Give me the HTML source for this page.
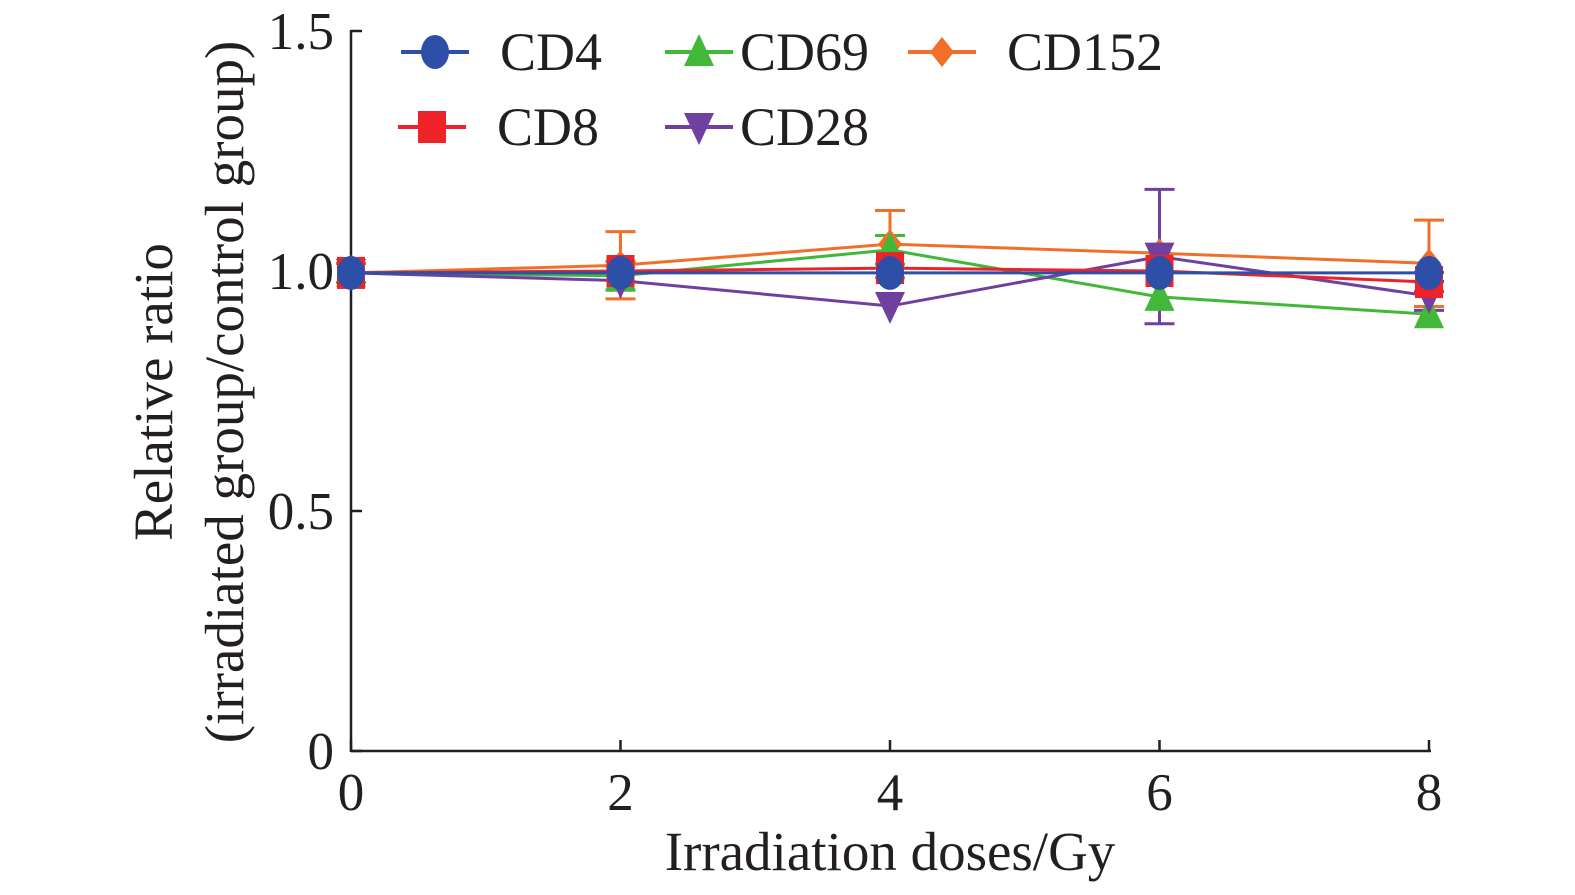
<!DOCTYPE html>
<html><head><meta charset="utf-8"><style>
body{margin:0;background:#fff}
svg text{font-family:"Liberation Serif",serif;fill:#231f20}
</style></head><body>
<svg id="c" width="1575" height="890" viewBox="0 0 1575 890"></svg>
<script>
const xs=[0,2,4,6,8];
const yTicks=[0,0.5,1.0,1.5];
const yTickLabels=["0","0.5","1.0","1.5"];
const cd4=[0.996,0.996,0.996,0.996,0.996];
const cd8=[0.996,1.0,1.006,1.0,0.977];
const cd69=[0.996,0.99,1.044,0.946,0.91];
const cd28=[0.996,0.98,0.927,1.03,0.948];
const cd152=[0.996,1.012,1.056,1.037,1.016];
const cd152Err=[0.02,0.07,0.07,0.0,0.09];
const cd69Err=[0.02,0.03,0.03,0.0,0.0];
const cd28Err=[0,0,0,0.14,0.03];
const cd8Err=[0,0,0,0,0.02];
const X=v=>351+v*(1429-351)/8;
const Y=v=>751-v*480;
const svg=document.getElementById('c');
const NS='http://www.w3.org/2000/svg';
function mk(t,a,p){const e=document.createElementNS(NS,t);for(const k in a)e.setAttribute(k,a[k]);(p||svg).appendChild(e);return e;}
let ax=mk('line',{x1:351,y1:751,x2:1431,y2:751,stroke:'#231f20','stroke-width':2.5});


ax=mk('line',{x1:351,y1:30,x2:351,y2:752,stroke:'#231f20','stroke-width':2.5});


xs.forEach(v=>{
 const t=mk('line',{x1:X(v),y1:751,x2:X(v),y2:740,stroke:'#231f20','stroke-width':2.5});
 
 
 const l=mk('text',{x:X(v),y:810,'text-anchor':'middle','font-size':53});l.textContent=v;
 
 
});
yTicks.forEach((v,i)=>{
 const t=mk('line',{x1:351,y1:Y(v),x2:362,y2:Y(v),stroke:'#231f20','stroke-width':2.5});
 
 
 const l=mk('text',{x:334,y:Y(v)+18,'text-anchor':'end','font-size':53});l.textContent=yTickLabels[i];
 
 
});
let tt=mk('text',{x:890,y:870,'text-anchor':'middle','font-size':55});tt.textContent='Irradiation doses/Gy';


tt=mk('text',{x:0,y:0,'text-anchor':'middle','font-size':55,transform:'translate(172,392) rotate(-90)'});
tt.textContent='Relative ratio';


tt=mk('text',{x:0,y:0,'text-anchor':'middle','font-size':55,transform:'translate(243,392) rotate(-90)'});
tt.textContent='(irradiated group/control group)';


function marker(type,x,y,c,g){
 if(type==='circle')return mk('ellipse',{cx:x,cy:y,rx:14,ry:17,fill:c},g);
 if(type==='square')return mk('rect',{x:x-14,y:y-16,width:28,height:32,fill:c},g);
 if(type==='tri')return mk('polygon',{points:`${x},${y-18} ${x-15},${y+14} ${x+15},${y+14}`,fill:c},g);
 if(type==='dtri')return mk('polygon',{points:`${x},${y+18} ${x-15},${y-14} ${x+15},${y-14}`,fill:c},g);
 if(type==='dia')return mk('polygon',{points:`${x},${y-15} ${x-12},${y} ${x},${y+15} ${x+12},${y}`,fill:c},g);
}
const series=[
 {n:'cd152',v:cd152,e:cd152Err,c:'#f0702a',m:'dia'},
 {n:'cd69',v:cd69,e:cd69Err,c:'#41b83a',m:'tri'},
 {n:'cd28',v:cd28,e:cd28Err,c:'#7040a0',m:'dtri'},
 {n:'cd8',v:cd8,e:cd8Err,c:'#ee2229',m:'square'},
 {n:'cd4',v:cd4,e:[0,0,0,0,0],c:'#2e4fa8',m:'circle'}
];
series.forEach(s=>{
 const g=mk('g',{});
 
 
 s.v.forEach((v,i)=>{if(s.e[i]>0){
  const e=mk('path',{d:`M${X(xs[i])},${Y(v+s.e[i])}V${Y(v-s.e[i])}M${X(xs[i])-15},${Y(v+s.e[i])}h30M${X(xs[i])-15},${Y(v-s.e[i])}h30`,stroke:s.c,'stroke-width':3,fill:'none'},g);
  
  
 }});
 const p=mk('polyline',{points:s.v.map((v,i)=>X(xs[i])+','+Y(v)).join(' '),stroke:s.c,'stroke-width':3,fill:'none'},g);
 
 
});
series.forEach(s=>{s.v.forEach((v,i)=>{
 const m=marker(s.m,X(xs[i]),Y(v),s.c);
 
 
});});
const legend=[['CD4','#2e4fa8','circle',401,52,500],['CD69','#41b83a','tri',665,52,740],['CD152','#f0702a','dia',908,52,1007],['CD8','#ee2229','square',398,127,497],['CD28','#7040a0','dtri',665,127,740]];
const names=['CD4','CD69','CD152','CD8','CD28'];
legend.forEach((l,i)=>{
 const g=mk('g',{});
 
 
 mk('line',{x1:l[3],y1:l[4],x2:l[3]+68,y2:l[4],stroke:l[1],'stroke-width':4},g);
 marker(l[2],l[3]+34,l[4],l[1],g);
 const t=mk('text',{x:l[5],y:l[4]+18,'font-size':54},g);t.textContent=names[i];
});
</script>
</body></html>
